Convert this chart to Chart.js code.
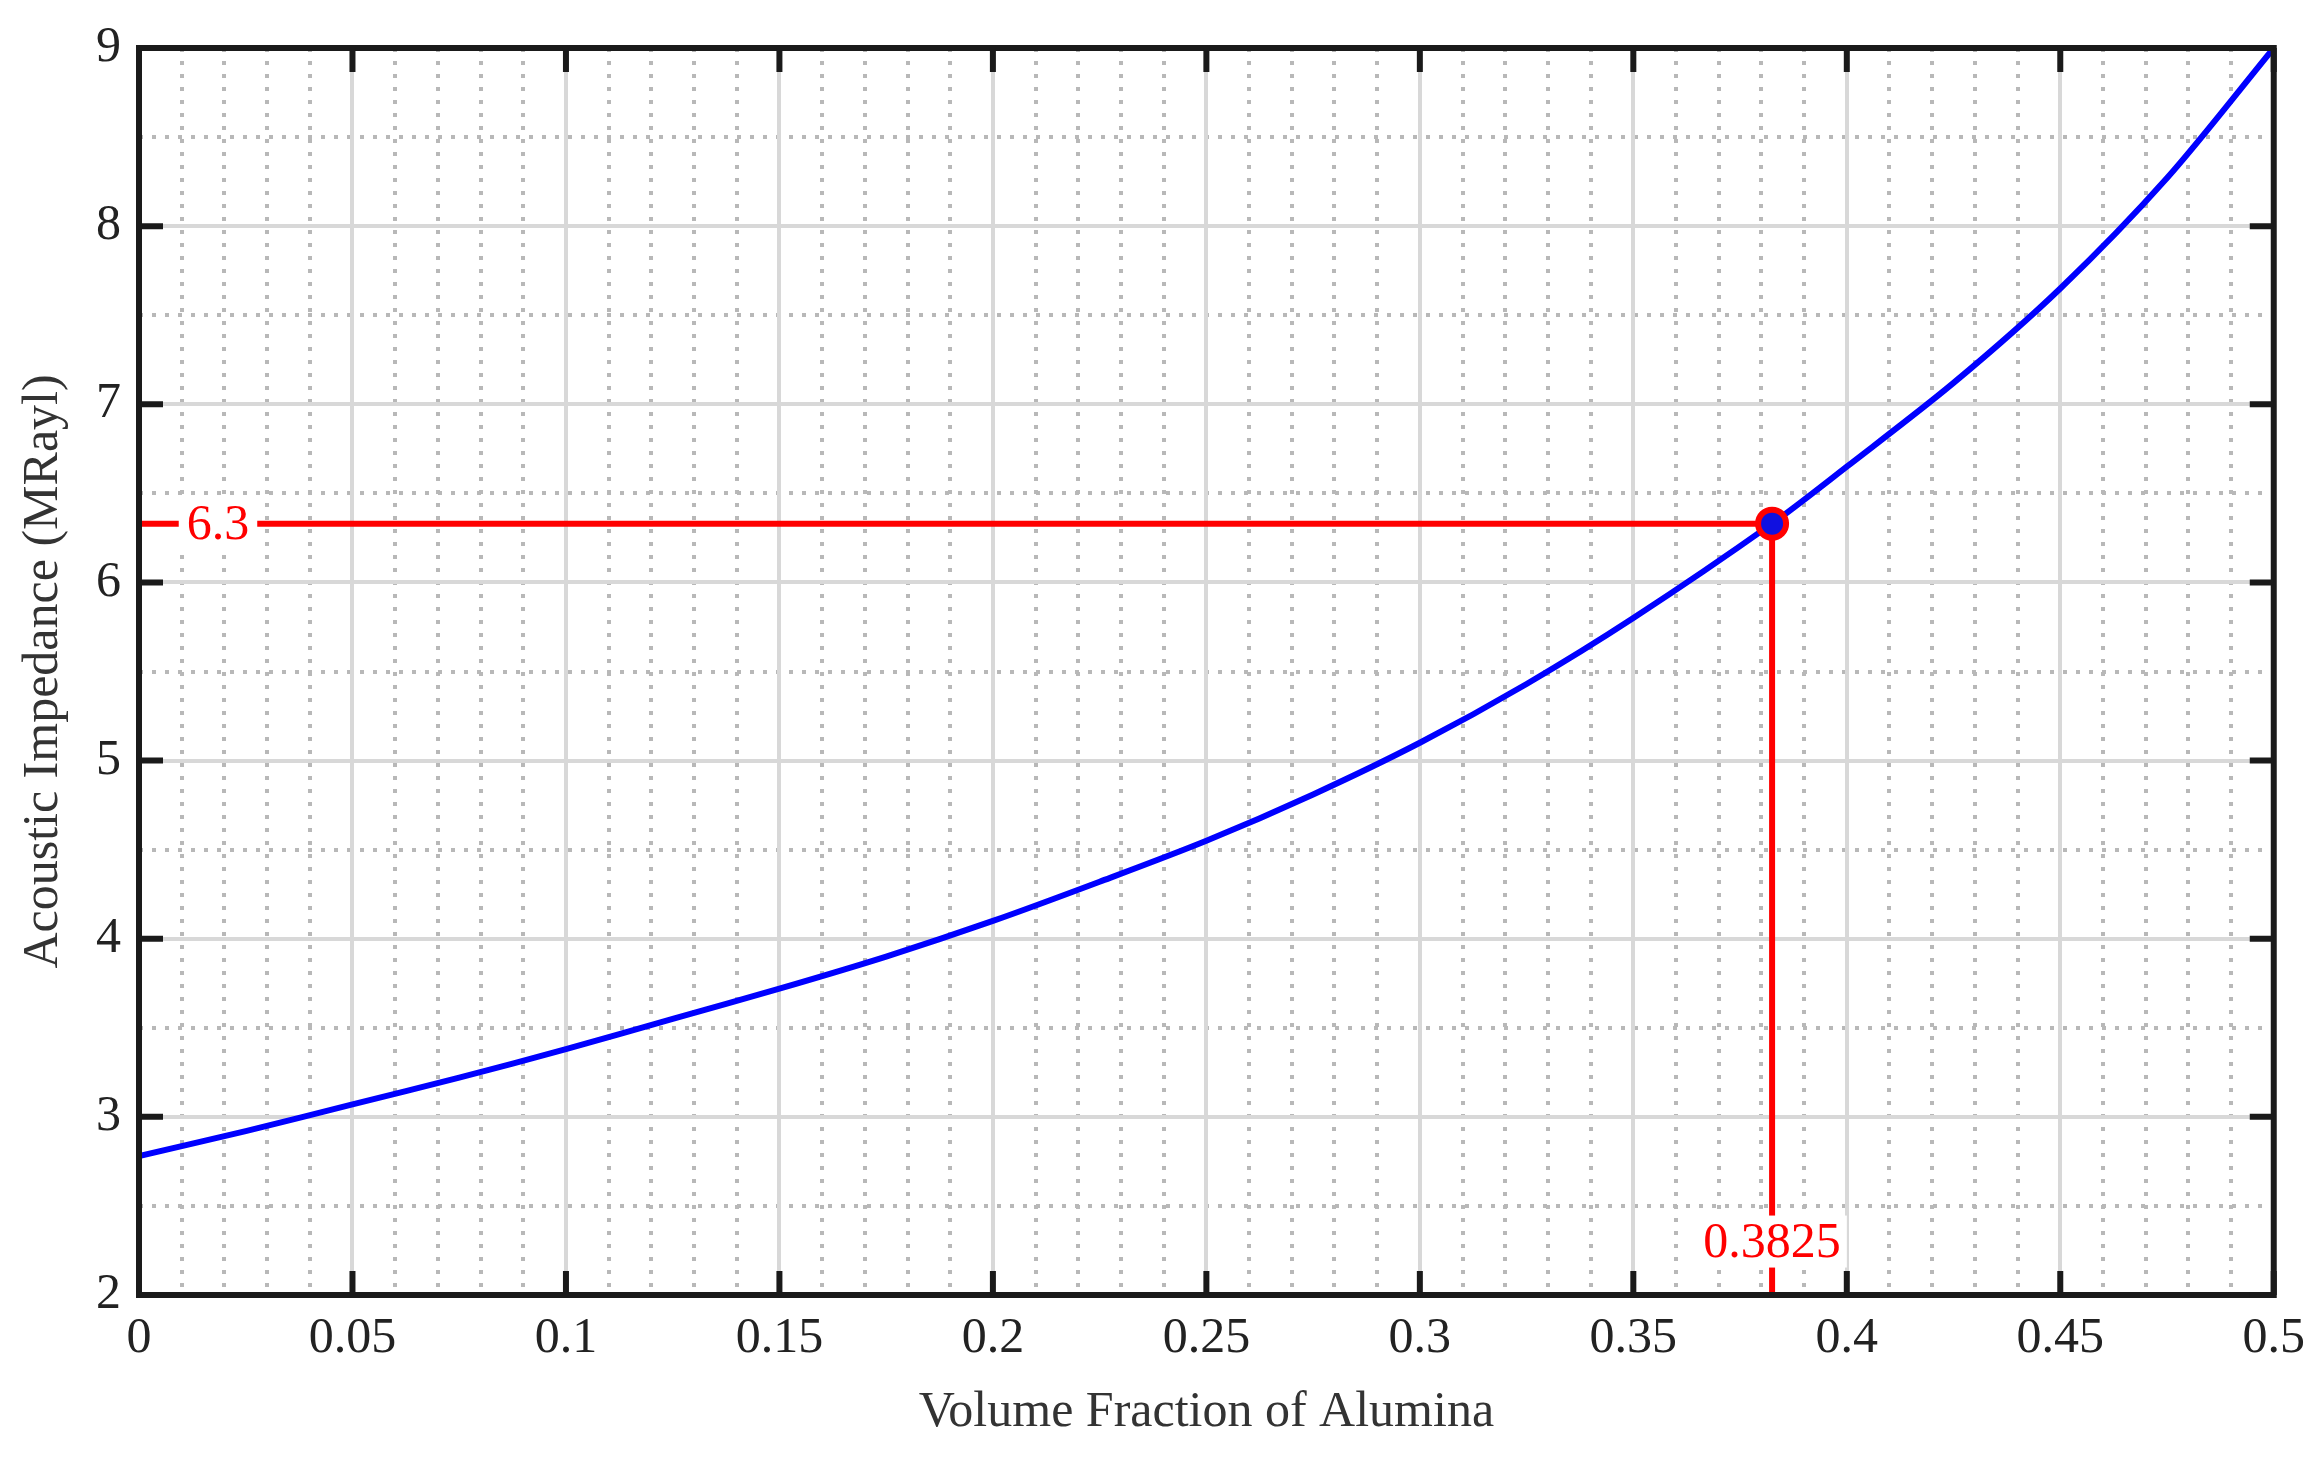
<!DOCTYPE html>
<html>
<head>
<meta charset="utf-8">
<script src="https://cdn.jsdelivr.net/npm/chart.js@4"></script>
<style>
  html, body { margin: 0; padding: 0; background: #fff; }
  #wrap { width: 2319px; height: 1457px; }
</style>
</head>
<body>
<div id="wrap"><canvas id="myChart"></canvas></div>
<script>
// curve
const fractionValues = [0, 0.025, 0.05, 0.075, 0.1, 0.125, 0.15, 0.175, 0.2, 0.225, 0.25, 0.275, 0.3, 0.325, 0.35, 0.3825, 0.4, 0.425, 0.45, 0.475, 0.5];
const impedanceValues = [2.78, 2.92, 3.07, 3.22, 3.38, 3.55, 3.72, 3.9, 4.1, 4.32, 4.55, 4.81, 5.1, 5.43, 5.8, 6.33, 6.65, 7.12, 7.65, 8.27, 9.0];
const markX = 0.3825;
const markY = 6.33;
const markXLabel = '0.3825';
const markYLabel = '6.3';

const serif = '"Liberation Serif", "DejaVu Serif", serif';

// black frame + inward ticks + red labels
const framePlugin = {
  id: 'frame',
  afterDatasetsDraw(chart) {
    const { ctx, chartArea: a, scales } = chart;
    ctx.save();
    ctx.strokeStyle = '#1a1a1a';
    ctx.lineWidth = 6;
    ctx.strokeRect(a.left, a.top, a.right - a.left, a.bottom - a.top);
    scales.x.ticks.forEach(t => {
      const px = scales.x.getPixelForValue(t.value);
      ctx.beginPath();
      ctx.moveTo(px, a.bottom); ctx.lineTo(px, a.bottom - 24);
      ctx.moveTo(px, a.top); ctx.lineTo(px, a.top + 24);
      ctx.stroke();
    });
    scales.y.ticks.forEach(t => {
      const py = scales.y.getPixelForValue(t.value);
      ctx.beginPath();
      ctx.moveTo(a.left, py); ctx.lineTo(a.left + 24, py);
      ctx.moveTo(a.right, py); ctx.lineTo(a.right - 24, py);
      ctx.stroke();
    });
    // red labels with white boxes
    ctx.font = '50px ' + serif;
    ctx.textBaseline = 'middle';
    ctx.textAlign = 'center';
    const ly = scales.y.getPixelForValue(markY);
    const lx = scales.x.getPixelForValue(0.0185);
    let w = ctx.measureText(markYLabel).width;
    ctx.fillStyle = '#fff';
    ctx.fillRect(lx - w / 2 - 8, ly - 26, w + 16, 52);
    ctx.fillStyle = '#ff0000';
    ctx.fillText(markYLabel, lx, ly + 2);
    const bx = scales.x.getPixelForValue(markX);
    const by = scales.y.getPixelForValue(2.3);
    w = ctx.measureText(markXLabel).width;
    ctx.fillStyle = '#fff';
    ctx.fillRect(bx - w / 2 - 6, by - 26, w + 12, 52);
    ctx.fillStyle = '#ff0000';
    ctx.fillText(markXLabel, bx, by + 2);
    ctx.restore();
  }
};

const ctx = document.getElementById('myChart').getContext('2d');
const myChart = new Chart(ctx, {
  type: 'scatter',
  data: {
    datasets: [{
      data: [{ x: markX, y: markY }],
      pointRadius: 14,
      pointBackgroundColor: '#1010e0',
      pointBorderColor: '#ff0000',
      pointBorderWidth: 6,
      showLine: false,
      order: 0
    }, {
      data: fractionValues.map((x, i) => ({ x, y: impedanceValues[i] })),
      borderColor: '#0000ff',
      borderWidth: 6,
      showLine: true,
      tension: 0.3,
      pointRadius: 0,
      order: 1
    }, {
      data: [{ x: 0, y: markY }, { x: markX, y: markY }],
      borderColor: '#ff0000',
      borderWidth: 6,
      showLine: true,
      pointRadius: 0,
      order: 2
    }, {
      data: [{ x: markX, y: 2 }, { x: markX, y: markY }],
      borderColor: '#ff0000',
      borderWidth: 6,
      showLine: true,
      pointRadius: 0,
      order: 2
    }]
  },
  options: {
    responsive: true,
    maintainAspectRatio: false,
    animation: false,
    layout: { padding: { top: 30, right: 45, left: 10, bottom: 10 } },
    plugins: { legend: { display: false }, tooltip: { enabled: false } },
    scales: {
      xm: {
        type: 'linear', position: 'bottom', min: 0, max: 0.5,
        ticks: { display: false, stepSize: 0.01 },
        grid: { color: '#b8b8b8', lineWidth: 4, drawTicks: false },
        border: { display: false, dash: [4, 9] }
      },
      ym: {
        type: 'linear', position: 'left', min: 2, max: 9,
        ticks: { display: false, stepSize: 0.5 },
        grid: { color: '#b8b8b8', lineWidth: 4, drawTicks: false },
        border: { display: false, dash: [4, 9] }
      },
      x: {
        type: 'linear', min: 0, max: 0.5,
        ticks: { stepSize: 0.05, color: '#222', font: { family: serif, size: 50 }, padding: 14,
          callback: v => String(Math.round(v * 100) / 100) },
        grid: { color: '#d8d8d8', lineWidth: 4, drawTicks: false },
        border: { display: false },
        title: { display: true, text: 'Volume Fraction of Alumina', color: '#333', font: { family: serif, size: 50 }, padding: { top: 0 } }
      },
      y: {
        type: 'linear', min: 2, max: 9,
        ticks: { stepSize: 1, color: '#222', font: { family: serif, size: 50 }, padding: 18 },
        grid: { color: '#d8d8d8', lineWidth: 4, drawTicks: false },
        border: { display: false },
        title: { display: true, text: 'Acoustic Impedance (MRayl)', color: '#333', font: { family: serif, size: 50 }, padding: { bottom: 4 } }
      }
    }
  },
  plugins: [framePlugin]
});
</script>
</body>
</html>
